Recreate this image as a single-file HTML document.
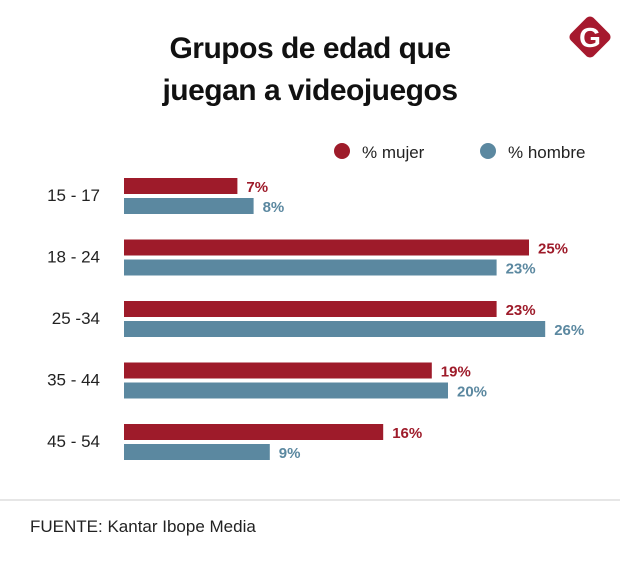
<!DOCTYPE html>
<html><head><meta charset="utf-8"><style>
body{margin:0;background:#fff;}
svg text{font-family:"Liberation Sans",sans-serif;}
</style></head><body>
<svg width="620" height="568" xmlns="http://www.w3.org/2000/svg">
<rect width="620" height="568" fill="#fff"/>
<g>
<rect x="574" y="21" width="32" height="32" rx="5" fill="#a6192e" transform="rotate(45 590 37)"/>
<text x="590" y="47" text-anchor="middle" font-size="28" font-weight="bold" fill="#fff">G</text>
</g>
<text text-anchor="middle" font-size="30" font-weight="bold" fill="#111" letter-spacing="-0.5"><tspan x="310" y="58">Grupos de edad que</tspan><tspan x="310" y="100">juegan a videojuegos</tspan></text>
<g>
<circle cx="342" cy="151" r="8" fill="#9e1b2a"/><text x="362" y="158" font-size="17" fill="#222">% mujer</text>
<circle cx="488" cy="151" r="8" fill="#5b88a0"/><text x="508" y="158" font-size="17" fill="#222">% hombre</text>
</g>
<g id="bars"></g>
<line x1="0" y1="500" x2="620" y2="500" stroke="#ccc" stroke-width="1"/>
<text x="30" y="532" font-size="17" fill="#222">FUENTE: Kantar Ibope Media</text>
</svg>
<script>
const categories=["15 - 17","18 - 24","25 -34","35 - 44","45 - 54"];
const mujer=[7,25,23,19,16];
const hombre=[8,23,26,20,9];
const g=document.getElementById('bars');
const NS="http://www.w3.org/2000/svg";
const x0=124,k=16.2;
function xs(v){return x0+v*k;}
function yc(i){return 178+i*61.5;}
function mk(t,a){const e=document.createElementNS(NS,t);for(const n in a)e.setAttribute(n,a[n]);g.appendChild(e);return e;}
categories.forEach((c,i)=>{
 const y=yc(i);
 const l=mk('text',{x:100,y:y+23,'text-anchor':'end','font-size':17,fill:'#222'});l.textContent=c;
 
 
 [[mujer,'#9e1b2a',0],[hombre,'#5b88a0',20]].forEach(([arr,col,off])=>{
  const b=mk('rect',{x:x0,y:y+off,width:xs(arr[i])-x0,height:16,fill:col});
  
  
  const t=mk('text',{x:xs(arr[i])+9,y:y+off+14,'font-size':15,'font-weight':'bold',fill:col});
  t.textContent=arr[i]+'%';
  
  
 });
});
</script>
</body></html>
